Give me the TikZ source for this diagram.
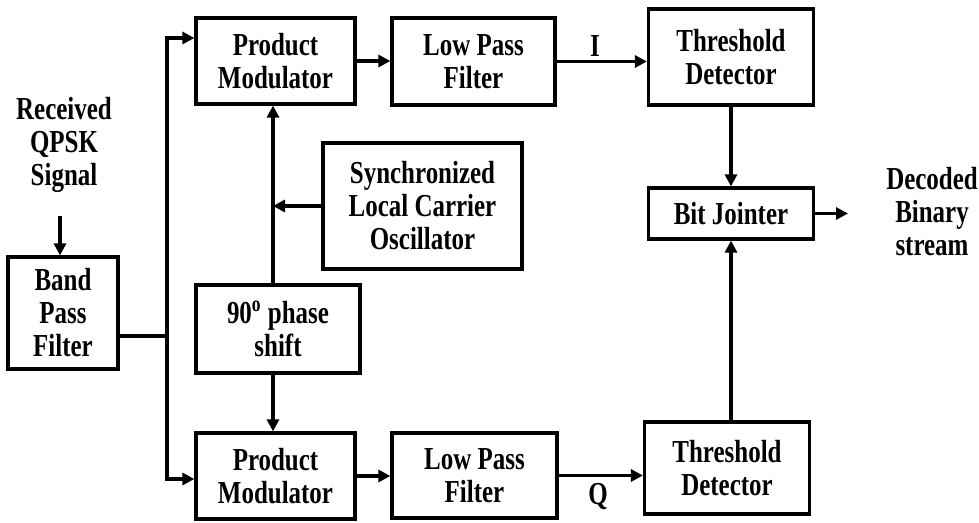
\documentclass[tikz,border=0pt]{standalone}
\usepackage{fontspec}
\setmainfont{Liberation Serif}[FakeStretch=0.78]
\usetikzlibrary{arrows.meta}
\begin{document}
\begin{tikzpicture}[x=0.5pt,y=-0.5pt,
  blk/.style={draw,line width=1.6pt,rectangle,align=center,font=\bfseries\fontsize{16}{16.5}\selectfont,inner sep=0pt},
  lbl/.style={align=center,font=\bfseries\fontsize{16}{16.5}\selectfont,inner sep=0pt},
  wire/.style={line width=1.6pt},
  arr/.style={line width=1.6pt,-{Triangle[length=6pt,width=6pt]}}]
\useasboundingbox (0,0) rectangle (979,523);
% blocks
\node[blk,minimum width=55pt,minimum height=56pt] (bpf) at (63,313) {Band\\Pass\\Filter};
\node[blk,minimum width=79.5pt,minimum height=43pt] (pm1) at (275.5,61) {Product\\Modulator};
\node[blk,minimum width=81.5pt,minimum height=43.5pt] (lpf1) at (473.5,61.5) {Low Pass\\Filter};
\node[blk,minimum width=82.5pt,minimum height=48pt] (td1) at (731,57) {Threshold\\Detector};
\node[blk,minimum width=82.5pt,minimum height=25.5pt] (bj) at (731,213.5) {Bit Jointer};
\node[blk,minimum width=99.5pt,minimum height=63pt] (osc) at (422.5,206) {Synchronized\\Local Carrier\\Oscillator};
\node[blk,minimum width=82pt,minimum height=44pt] (ps) at (278,329) {90\textsuperscript{o} phase\\shift};
\node[blk,minimum width=79.5pt,minimum height=43pt] (pm2) at (275.5,476) {Product\\Modulator};
\node[blk,minimum width=82.5pt,minimum height=42.5pt] (lpf2) at (474.5,475.5) {Low Pass\\Filter};
\node[blk,minimum width=82.5pt,minimum height=46pt] (td2) at (727,468) {Threshold\\Detector};
% free labels
\node[lbl] (rx) at (64,145) {Received\\QPSK\\Signal};
\node[lbl] (dec) at (932,212) {Decoded\\Binary\\stream};
\node[lbl] (il) at (595,46) {I};
\node[lbl] (ql) at (598,496) {Q};
% helper coordinates
\coordinate (rxs) at (60,216);
\coordinate (busmid) at (167,336);
\coordinate (bustop) at (167,38);
\coordinate (busbot) at (167,479);
\coordinate (vx) at (273,0);
\coordinate (outend) at (848,0);
% connectors
\draw[arr] (rxs) -- (bpf.north -| rxs);
\draw[wire] (bpf.east |- busmid) -- (busmid);
\draw[arr] (busmid) -- (bustop) -- (pm1.west |- bustop);
\draw[arr] (busmid) -- (busbot) -- (pm2.west |- busbot);
\draw[arr] (pm1.east) -- (lpf1.west |- pm1.east);
\draw[arr] (pm2.east) -- (lpf2.west |- pm2.east);
\draw[arr] (lpf1.east) -- (td1.west |- lpf1.east);
\draw[arr] (lpf2.east) -- (td2.west |- lpf2.east);
\draw[arr] (ps.north -| vx) -- (pm1.south -| vx);
\draw[arr] (ps.south -| vx) -- (pm2.north -| vx);
\draw[arr] (osc.west) -- (osc.west -| vx);
\draw[arr] (td1.south) -- (bj.north);
\draw[arr] (td2.north -| bj.south) -- (bj.south);
\draw[arr] (bj.east) -- (bj.east -| outend);
\end{tikzpicture}
\end{document}
